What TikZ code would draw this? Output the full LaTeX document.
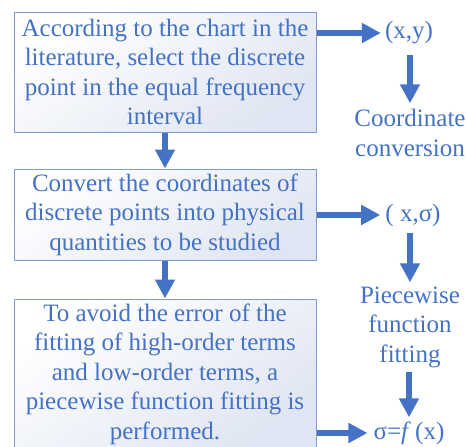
\documentclass[tikz,border=0pt]{standalone}
\usepackage{fontspec}
\setmainfont{Liberation Serif}
\usetikzlibrary{arrows.meta,positioning}

\definecolor{flowblue}{HTML}{4472C4}
\definecolor{boxline}{HTML}{7F9BD4}
\definecolor{boxshade}{HTML}{DFE5F2}

\tikzset{
  stepbox/.style={draw=boxline,line width=1pt,top color=white,bottom color=boxshade,
    shading angle=35,text=flowblue,align=center,minimum width=302pt,inner sep=0pt},
  flowtext/.style={text=flowblue,align=center,inner sep=2pt},
  flow/.style={flowblue,line width=6pt,-{Triangle[length=19pt,width=19pt]}}
}

\begin{document}
\begin{tikzpicture}[x=1pt,y=1pt,font=\rmfamily\fontsize{25}{29.5}\selectfont]
  \useasboundingbox (0,0) rectangle (467,-447);
  \clip (0,0) rectangle (467,-447);

  % left column: the three steps
  \node[stepbox,minimum height=120pt] (find) at (165,-72)
    {According to the chart in the\\literature, select the discrete\\point in the equal frequency\\interval};
  \node[stepbox,minimum height=91pt] (convert) at (165,-214.5)
    {Convert the coordinates of\\discrete points into physical\\quantities to be studied};
  \node[stepbox,minimum height=150pt] (fit) at (165,-374)
    {To avoid the error of the\\fitting of high-order terms\\and low-order terms, a\\piecewise function fitting is\\performed.};

  % right column: results
  \node[flowtext] (xy) at (409,-33) {(x,y)};
  \node[flowtext] (conv) at (410,-133) {Coordinate\\conversion};
  \node[flowtext] (xs) at (413,-215) {( x,σ)};
  \node[flowtext] (pw) at (410,-327) {Piecewise\\function\\fitting};
  \node[flowtext] (sf) at (409,-433) {σ=\textit{f}\,(x)};

  % steps downwards
  \draw[flow] (find) -- (convert);
  \draw[flow] (convert) -- (fit);

  % steps to results
  \draw[flow,shorten >=2pt] (find.east |- xy) -- (xy);
  \draw[flow,shorten >=3pt] (convert.east |- xs) -- (xs);
  \draw[flow,shorten >=4pt] (fit.east |- sf) -- (sf);

  % results downwards
  \draw[flow,shorten <=8pt,shorten >=4pt] (conv.north |- xy.south) -- (conv.north);
  \draw[flow,shorten <=4pt,shorten >=2pt] (pw.north |- xs.south) -- (pw.north);
  \draw[flow,shorten <=2pt,shorten >=2pt] (pw.south -| sf) -- (sf);
\end{tikzpicture}
\end{document}
